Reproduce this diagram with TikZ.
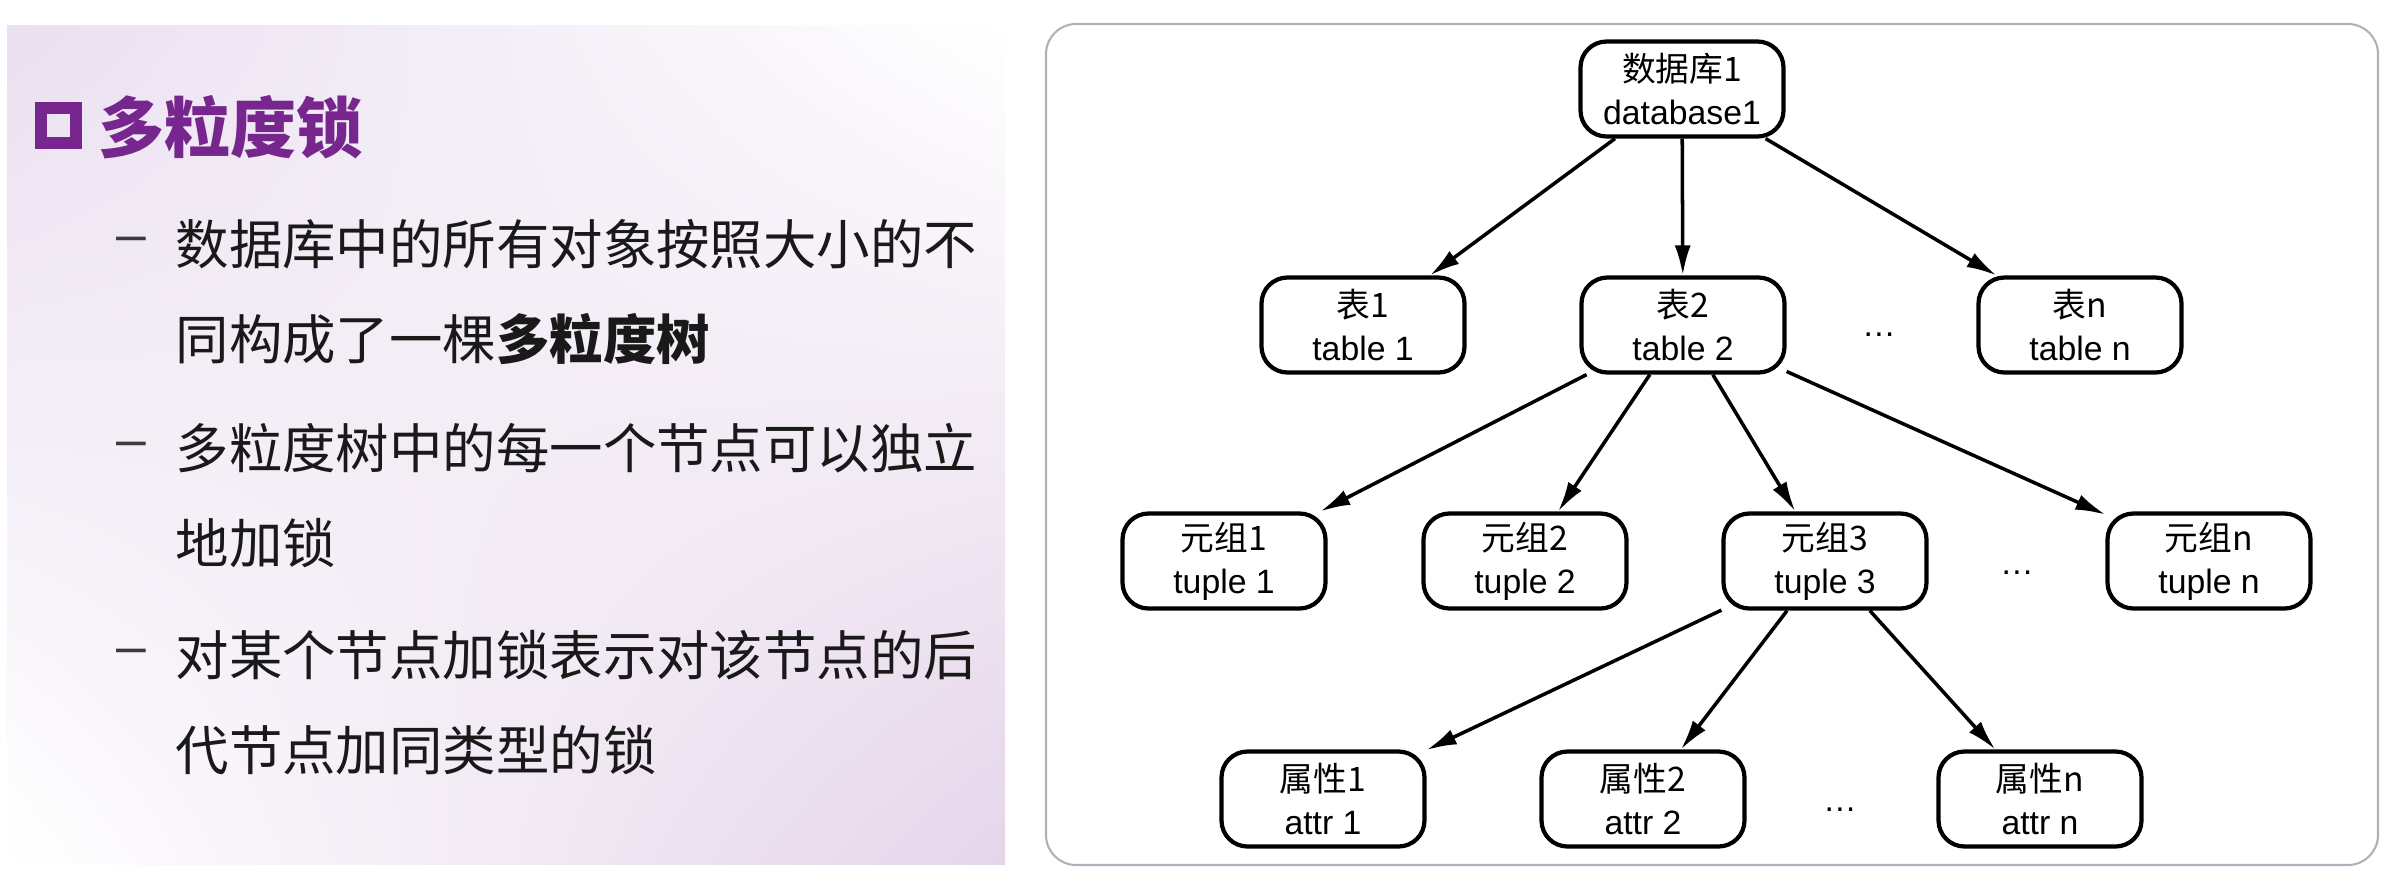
\documentclass[tikz,border=0pt]{standalone}
\usepackage{fontspec}
\setmainfont{Liberation Sans}
\newfontfamily\cjk{Noto Sans CJK SC}
\usetikzlibrary{arrows.meta, shadings}
\definecolor{primary}{RGB}{118, 38, 140}
\definecolor{panel}{RGB}{234, 224, 240}
\definecolor{panelb}{RGB}{229, 213, 234}
\definecolor{frame}{RGB}{178, 176, 188}
\definecolor{ink}{RGB}{25, 25, 25}

\begin{document}
\begin{tikzpicture}[
      nd/.style={draw=black, line width=1.2pt, fill=white, rounded corners=0.26cm, minimum width=2.03cm,
                 minimum height=0.95cm, align=center, font=\fontsize{9.6}{12.2}\selectfont, inner sep=0pt},
      ar/.style={-{Latex[length=0.3cm, width=0.16cm]}, line width=1pt},
      dots/.style={font=\fontsize{9.6}{10}\selectfont, inner sep=0pt},
      bl/.style={anchor=north west, align=left, inner sep=0pt, text=ink, font=\cjk\fontsize{15.2}{26.9}\selectfont},
      dsh/.style={inner sep=0pt, text=ink!85, font=\fontsize{15.2}{18}\selectfont}]
      \useasboundingbox (0,0) rectangle (23.9,-8.77);
      % left panel
      \shade[upper left=panel, upper right=white, lower left=white, lower right=panelb]
        (0.07,-0.25) rectangle (10.05,-8.64);
      \node[draw=primary, line width=0.12cm, minimum size=0.35cm, inner sep=0pt] (sq) at (0.585,-1.25) {};
      \node[anchor=west, text=primary, font=\cjk\bfseries\fontsize{18.8}{22}\selectfont, inner sep=0pt]
        (ttl) at (0.98,-1.27) {多粒度锁};
      \node[dsh] (d1) at (1.315,-2.45) {–};
      \node[dsh] (d2) at (1.315,-4.50) {–};
      \node[dsh] (d3) at (1.315,-6.57) {–};
      \node[bl] (b1) at (1.75,-2.19) {数据库中的所有对象按照大小的不\\同构成了一棵{\bfseries 多粒度树}};
      \node[bl] (b2) at (1.75,-4.23) {多粒度树中的每一个节点可以独立\\地加锁};
      \node[bl] (b3) at (1.75,-6.30) {对某个节点加锁表示对该节点的后\\代节点加同类型的锁};
      % right panel
      \draw[frame, line width=0.6pt, fill=white, rounded corners=0.3cm] (10.46,-0.24) rectangle (23.78,-8.65);
      \node[nd] (db)  at (16.82,-0.89) {{\cjk 数据库1}\\database1};
      \node[nd] (tb1) at (13.63,-3.25) {{\cjk 表1}\\table 1};
      \node[nd] (tb2) at (16.83,-3.25) {{\cjk 表2}\\table 2};
      \node[dots] (tbd) at (18.79,-3.35) {…};
      \node[nd] (tbn) at (20.80,-3.25) {{\cjk 表n}\\table n};
      \node[nd] (tp1) at (12.24,-5.61) {{\cjk 元组1}\\tuple 1};
      \node[nd] (tp2) at (15.25,-5.61) {{\cjk 元组2}\\tuple 2};
      \node[nd] (tp3) at (18.25,-5.61) {{\cjk 元组3}\\tuple 3};
      \node[dots] (tpd) at (20.17,-5.73) {…};
      \node[nd] (tpn) at (22.09,-5.61) {{\cjk 元组n}\\tuple n};
      \node[nd] (at1) at (13.23,-7.99) {{\cjk 属性1}\\attr 1};
      \node[nd] (at2) at (16.43,-7.99) {{\cjk 属性2}\\attr 2};
      \node[dots] (atd) at (18.40,-8.10) {…};
      \node[nd] (atn) at (20.40,-7.99) {{\cjk 属性n}\\attr n};
      \draw[ar](db)--(tb1); \draw[ar](db)--(tb2); \draw[ar](db)--(tbn);
      \draw[ar](tb2)--(tp1); \draw[ar](tb2)--(tp2); \draw[ar](tb2)--(tp3); \draw[ar](tb2)--(tpn);
      \draw[ar](tp3)--(at1); \draw[ar](tp3)--(at2); \draw[ar](tp3)--(atn);
    \end{tikzpicture}
\end{document}
